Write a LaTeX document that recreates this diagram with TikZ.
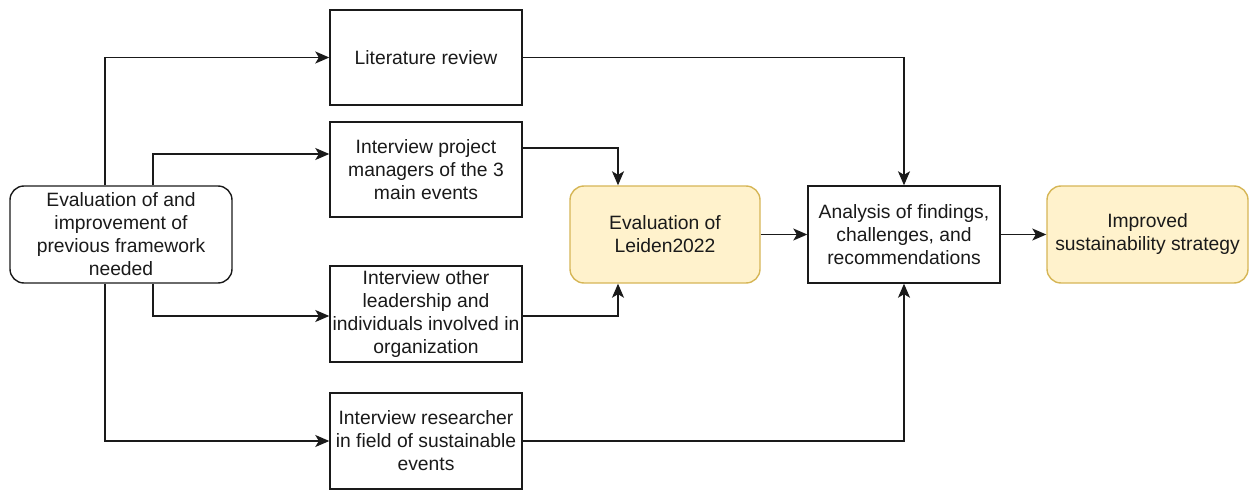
\documentclass[tikz,border=0pt]{standalone}
\usepackage{fontspec}
\setmainfont{Liberation Sans}
\usetikzlibrary{arrows.meta,calc}
\definecolor{ylfill}{HTML}{FFF2CC}
\definecolor{yldraw}{HTML}{D6B656}
\definecolor{ink}{HTML}{1A1A1A}
\begin{document}
\begin{tikzpicture}[x=1pt,y=-1pt,
  every node/.style={font=\fontsize{19.3}{23}\selectfont, text=ink, align=center, inner sep=0pt},
  box/.style={draw=ink, line width=1.4pt, minimum width=192pt, minimum height=95pt, fill=white},
  rbox/.style={draw=ink, line width=1.4pt, rounded corners=14pt, minimum height=97pt},
  ybox/.style={draw=yldraw, fill=ylfill, line width=1.4pt, rounded corners=14pt, minimum height=97pt},
  arr/.style={draw=ink, line width=1.4pt, -{Stealth[length=14pt,width=12pt,inset=3.5pt]}},
  ln/.style={draw=ink, line width=1.4pt}]
\useasboundingbox (0,0) rectangle (1250,492);
\node[rbox, minimum width=222pt] (start) at (121,234.5) {Evaluation of and\\improvement of\\previous framework\\needed};
\node[box] (lit) at (426,57.5) {Literature review};
\node[box] (pm) at (426,169.5) {Interview project\\managers of the 3\\main events};
\node[box, minimum height=96pt] (lead) at (426,314) {Interview other\\leadership and\\individuals involved in\\organization};
\node[box, minimum height=96pt] (res) at (426,441) {Interview researcher\\in field of sustainable\\events};
\node[ybox, minimum width=190pt] (eval) at (665,234.5) {Evaluation of\\Leiden2022};
\node[box, minimum height=97pt] (ana) at (904,234.5) {Analysis of findings,\\challenges, and\\recommendations};
\node[ybox, minimum width=201pt] (imp) at (1147.5,234.5) {Improved\\sustainability strategy};
% from start
\draw[arr] ([xshift=-16pt]start.north) |- (lit.west);
\draw[arr] ([xshift=32pt]start.north) |- ([yshift=15.5pt]pm.west);
\draw[arr] ([xshift=32pt]start.south) |- ([yshift=-2pt]lead.west);
\draw[arr] ([xshift=-16pt]start.south) |- (res.west);
% to eval
\draw[arr] ([yshift=21.5pt]pm.east) -| ([xshift=-47pt]eval.north);
\draw[arr] ([yshift=-2pt]lead.east) -| ([xshift=-47pt]eval.south);
% to analysis
\draw[arr] (lit.east) -| (ana.north);
\draw[arr] (res.east) -| (ana.south);
\draw[arr] (eval.east) -- (ana.west);
\draw[arr] (ana.east) -- (imp.west);
\end{tikzpicture}
\end{document}
